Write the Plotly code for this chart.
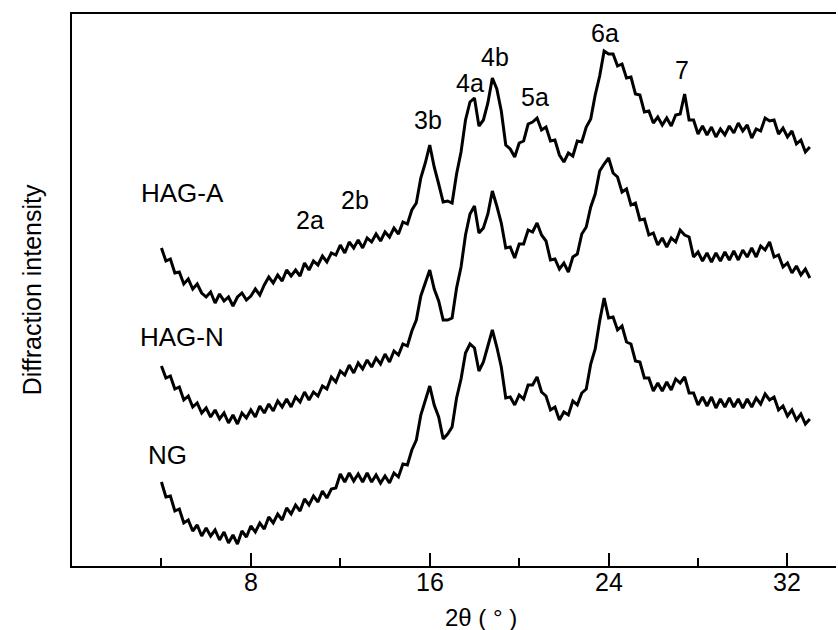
import plotly.graph_objects as go

# 2θ sampling grid (degrees), 4.0 .. 33.0 step 0.2
two_theta = [round(4.0 + 0.2 * i, 1) for i in range(146)]

hag_a = [318, 305, 307, 293, 294, 282, 287, 277, 282, 273, 269, 274, 263, 272, 265, 269, 260, 269, 273, 266,
         270, 277, 271, 281, 289, 283, 291, 285, 296, 290, 296, 290, 303, 296, 305, 301, 310, 304, 313, 311,
         321, 313, 324, 318, 326, 318, 328, 324, 332, 325, 334, 329, 338, 332, 344, 342, 356, 363, 388, 403,
         421, 399, 382, 364, 365, 363, 392, 414, 446, 464, 468, 440, 446, 463, 488, 477, 455, 421, 417, 409,
         423, 425, 442, 444, 448, 436, 439, 425, 426, 411, 404, 413, 410, 425, 424, 439, 447, 471, 490, 515,
         512, 512, 500, 502, 488, 489, 472, 471, 454, 455, 443, 449, 441, 448, 440, 451, 452, 472, 446, 446,
         432, 440, 431, 439, 429, 437, 431, 440, 433, 443, 435, 441, 428, 437, 435, 448, 445, 446, 432, 438,
         429, 435, 422, 426, 414, 419]

hag_n = [200, 188, 190, 177, 179, 166, 170, 159, 163, 153, 158, 149, 156, 147, 153, 143, 151, 142, 153, 148,
         156, 149, 160, 153, 162, 155, 165, 159, 167, 159, 169, 164, 174, 166, 174, 170, 180, 177, 189, 184,
         195, 191, 201, 193, 203, 197, 206, 199, 208, 202, 212, 204, 215, 211, 222, 220, 235, 246, 270, 282,
         296, 277, 265, 246, 246, 248, 278, 299, 331, 352, 360, 333, 338, 352, 375, 360, 343, 318, 319, 308,
         322, 322, 336, 334, 343, 331, 325, 306, 307, 297, 303, 294, 309, 312, 332, 339, 359, 372, 395, 402,
         408, 393, 389, 374, 377, 361, 363, 346, 347, 331, 333, 321, 328, 319, 328, 324, 336, 331, 329, 309,
         314, 305, 313, 304, 313, 305, 314, 306, 315, 306, 316, 309, 318, 309, 320, 316, 324, 309, 311, 299,
         303, 293, 300, 291, 297, 288]

ng = [84, 69, 70, 55, 57, 43, 46, 35, 41, 30, 38, 30, 36, 26, 34, 23, 31, 22, 35, 29,
      40, 34, 43, 37, 49, 43, 52, 46, 58, 52, 61, 55, 67, 61, 70, 64, 75, 68, 77, 78,
      92, 84, 93, 85, 92, 84, 93, 84, 91, 83, 90, 83, 93, 89, 102, 101, 116, 126, 151, 165,
      180, 161, 149, 127, 132, 139, 168, 187, 213, 222, 218, 195, 204, 220, 236, 219, 199, 168, 169, 161,
      171, 167, 181, 181, 189, 174, 170, 156, 159, 146, 154, 151, 165, 161, 173, 177, 202, 217, 245, 268,
      248, 249, 236, 240, 224, 222, 205, 204, 188, 188, 175, 183, 175, 184, 176, 187, 183, 189, 173, 173,
      161, 169, 160, 169, 158, 167, 159, 168, 159, 167, 158, 167, 159, 168, 162, 172, 166, 169, 156, 160,
      150, 156, 146, 152, 142, 147]

x_tick_vals = [8, 16, 24, 32]
x_tick_text = ["8", "16", "24", "32"]
x_minor_vals = [4, 12, 20, 28]

curve_labels = ["HAG-A", "HAG-N", "NG"]
label_pos = [(4.96, 373), (4.92, 229), (4.29, 111)]
peak_labels = ["2a", "2b", "3b", "4a", "4b", "5a", "6a", "7"]
peak_pos = [(10.64, 346), (12.66, 366), (15.92, 446), (17.8, 483), (18.92, 509), (20.7, 469), (23.84, 533), (27.28, 496)]

FONT = "Liberation Sans, Arial, sans-serif"

fig = go.Figure()
for series in (hag_a, hag_n, ng):
    fig.add_trace(go.Scatter(x=two_theta, y=series, mode="lines",
                             line=dict(color="black", width=3), showlegend=False,
                             hoverinfo="skip"))

annotations = []
for txt, (xx, yy) in zip(curve_labels + peak_labels, label_pos + peak_pos):
    annotations.append(dict(x=xx, y=yy, xref="x", yref="y", text=txt, showarrow=False,
                            font=dict(family=FONT, size=26 if txt in curve_labels else 25, color="black")))
# x tick labels (placed as text just under the axis line)
for v, t in zip(x_tick_vals, x_tick_text):
    annotations.append(dict(x=v, y=-0.029, xref="x", yref="paper", text=t, showarrow=False,
                            xanchor="center", yanchor="middle",
                            font=dict(family=FONT, size=25, color="black")))
annotations.append(dict(x=-0.052, y=0.50, xref="paper", yref="paper", text="Diffraction intensity",
                        textangle=-90, showarrow=False, xanchor="center", yanchor="middle",
                        font=dict(family=FONT, size=25, color="black")))
annotations.append(dict(x=0.535, y=-0.093, xref="paper", yref="paper", text="2θ ( ° )",
                        showarrow=False, xanchor="center", yanchor="middle",
                        font=dict(family=FONT, size=24, color="black")))

fig.update_layout(
    width=838, height=630,
    margin=dict(l=72, r=2, t=14, b=64),
    plot_bgcolor="white", paper_bgcolor="white",
    annotations=annotations,
    xaxis=dict(range=[0, 34.17], showgrid=False, zeroline=False, showline=True, linecolor="black",
               linewidth=2, mirror=True, ticks="inside", ticklen=13, tickwidth=2, tickcolor="black",
               tickvals=x_tick_vals, showticklabels=False,
               minor=dict(tickvals=x_minor_vals, ticks="inside", ticklen=8, tickwidth=2, tickcolor="black")),
    yaxis=dict(range=[0, 552], showgrid=False, zeroline=False, showline=True, linecolor="black",
               linewidth=2, showticklabels=False, ticks=""),
)

fig.write_html("out.html", config={"displayModeBar": False},
               post_script="document.body.style.margin='0';document.body.style.overflow='hidden';")
